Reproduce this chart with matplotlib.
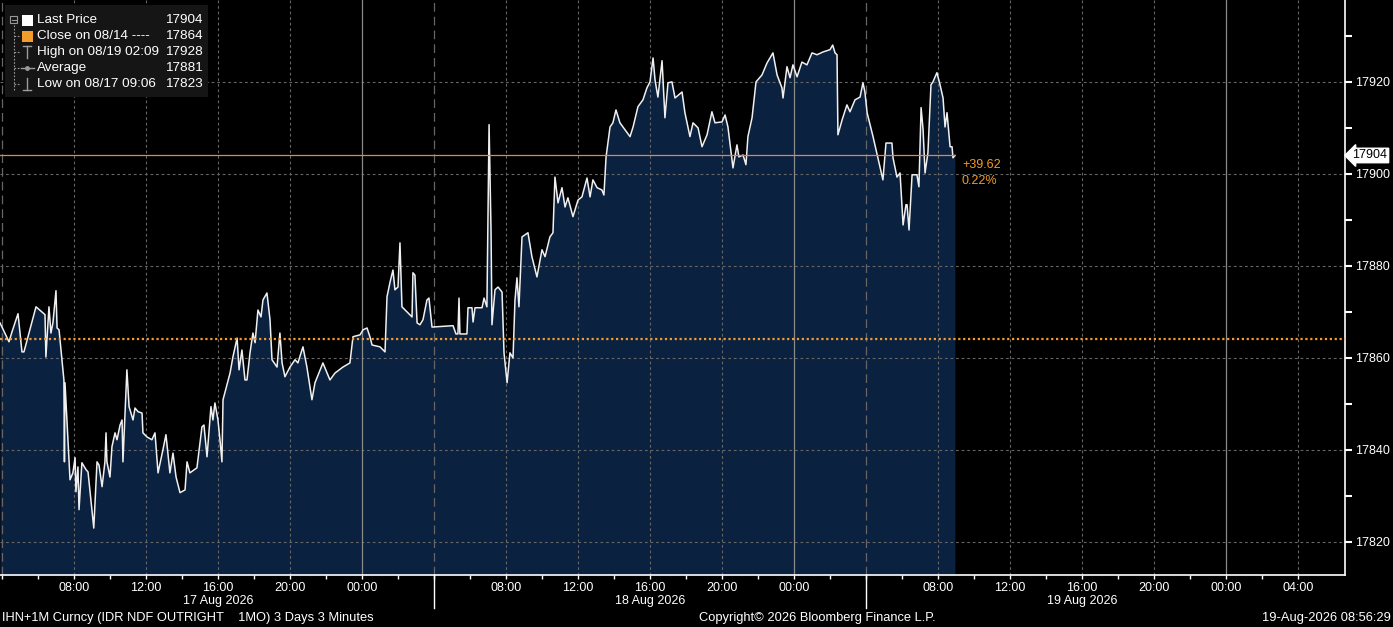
import pandas as pd
import matplotlib
matplotlib.use('Agg')
import matplotlib.pyplot as plt
import matplotlib.dates as mdates
from matplotlib.ticker import MultipleLocator, FixedLocator
from matplotlib.patches import Rectangle
from matplotlib.lines import Line2D

# hours since 17 Aug 2026 00:00 and last price readings (3-minute bars, traced)
hours = [
    3.89, 4.39, 4.56, 4.89, 5.11, 5.22, 5.89, 6.39, 6.44, 6.61, 6.72, 6.83, 7.00, 7.06, 7.17,
    7.33, 7.44, 7.47, 7.50, 7.78, 7.94, 8.06, 8.11, 8.22, 8.28, 8.44, 8.67, 8.78, 9.10, 9.28,
    9.39, 9.56, 9.72, 9.78, 9.83, 10.00, 10.11, 10.28, 10.39, 10.56, 10.67, 10.72, 10.94, 11.06,
    11.28, 11.39, 11.56, 11.78, 11.83, 12.06, 12.33, 12.50, 12.67, 12.94, 13.11, 13.33, 13.50,
    13.67, 13.89, 14.17, 14.28, 14.44, 14.83, 15.11, 15.22, 15.39, 15.61, 15.72, 15.83, 16.00,
    16.11, 16.22, 16.28, 16.67, 16.83, 17.06, 17.17, 17.33, 17.50, 17.61, 17.78, 17.94, 18.06,
    18.22, 18.39, 18.50, 18.72, 18.89, 19.00, 19.28, 19.44, 19.56, 19.72, 20.00, 20.28, 20.44,
    20.72, 20.94, 21.22, 21.39, 21.83, 22.22, 22.50, 22.94, 23.33, 23.50, 23.89, 24.06, 24.28,
    24.44, 24.56, 25.00, 25.28, 25.39, 25.56, 25.72, 25.83, 26.00, 26.11, 26.22, 26.50, 26.78,
    26.83, 26.94, 27.06, 27.22, 27.39, 27.61, 27.72, 27.89,
    29.06, 29.22, 29.33, 29.39, 29.44, 29.83, 29.89, 30.11, 30.17, 30.28, 30.67, 30.78, 30.94,
    31.06, 31.17, 31.22, 31.39, 31.56, 31.78, 31.89, 32.06, 32.22, 32.39, 32.50, 32.61, 32.72,
    32.89, 33.22, 33.44, 33.72, 34.00, 34.17, 34.44, 34.61, 34.72, 34.89, 35.11, 35.28, 35.44,
    35.72, 36.00, 36.22, 36.50, 36.67, 36.83, 37.06, 37.33, 37.44, 37.56, 37.78, 37.94, 38.11,
    38.33, 38.89, 39.06, 39.33, 39.61, 39.83, 40.00, 40.17, 40.28, 40.44, 40.67, 40.83, 41.00,
    41.22, 41.39, 41.78, 41.94, 42.22, 42.39, 42.67, 42.89, 43.17, 43.44, 43.61, 44.00, 44.17,
    44.33, 44.61, 44.83, 44.94, 45.17, 45.33, 45.44, 45.67, 45.89, 46.22, 46.50, 46.83, 47.06,
    47.33, 47.39, 47.61, 47.78, 47.94, 48.17, 48.44, 48.72, 49.00, 49.28, 49.61, 50.00, 50.15,
    50.28, 50.39, 50.44, 50.67, 50.94, 51.11, 51.39, 51.67, 51.83, 51.94,
    52.06, 52.39, 52.94, 53.11, 53.44, 53.50, 53.72, 53.89, 54.06, 54.22, 54.28, 54.39, 54.56,
    54.83, 54.94, 55.06, 55.17, 55.28, 55.44, 55.61, 55.72, 55.94, 56.11, 56.28, 56.39, 56.50,
    56.67, 56.78, 56.83, 56.94,
]
prices = [
    17867.6, 17863.5, 17865.7, 17869.6, 17861.3, 17861.3, 17871.1, 17869.4, 17860.2, 17871.1,
    17865.4, 17867.6, 17874.6, 17866.5, 17866.1, 17859.6, 17855.2, 17837.4, 17854.6, 17833.5,
    17835.0, 17838.3, 17830.9, 17836.3, 17827.0, 17837.2, 17835.7, 17835.2, 17823.0, 17837.4,
    17836.7, 17832.0, 17837.4, 17843.7, 17837.4, 17834.1, 17840.7, 17843.7, 17842.2, 17845.4,
    17846.5, 17837.4, 17857.4, 17849.4, 17846.5, 17849.1, 17848.3, 17848.0, 17843.7, 17842.8,
    17842.2, 17843.7, 17835.0, 17840.0, 17843.3, 17835.0, 17839.3, 17834.1, 17830.7, 17831.3,
    17837.4, 17835.0, 17836.1, 17845.0, 17845.4, 17838.5, 17849.4, 17846.5, 17850.2, 17846.5,
    17842.2, 17837.4, 17850.9, 17856.7, 17860.2, 17864.3, 17857.4, 17861.7, 17855.2, 17855.2,
    17861.1, 17865.4, 17863.3, 17870.4, 17868.9, 17872.6, 17874.1, 17868.3, 17859.6, 17858.0,
    17865.4, 17858.9, 17855.9, 17858.0, 17859.6, 17858.9, 17862.4, 17858.0, 17850.9, 17854.6,
    17858.9, 17855.2, 17856.7, 17858.0, 17858.9, 17864.6, 17865.0, 17866.1, 17866.5, 17864.6,
    17862.8, 17862.4, 17861.3, 17873.3, 17876.5, 17879.1, 17874.8, 17875.4, 17885.0, 17871.1,
    17870.0, 17868.9, 17878.5, 17878.0, 17867.6, 17867.2, 17868.3, 17872.6, 17873.0, 17866.7,
    17867.0, 17865.2, 17865.2, 17873.0, 17865.2, 17865.2, 17870.9, 17870.9, 17867.8, 17870.9,
    17870.9, 17873.0, 17871.1, 17910.7, 17887.2, 17867.2, 17874.8, 17875.4, 17874.3, 17861.1,
    17854.6, 17861.1, 17860.0, 17872.6, 17877.4, 17871.1, 17886.3, 17887.2, 17882.0, 17877.6,
    17883.5, 17882.0, 17886.3, 17887.2, 17899.3, 17893.7, 17897.0, 17892.8, 17894.8, 17890.7,
    17894.3, 17895.0, 17899.1, 17895.0, 17898.7, 17897.0, 17896.5, 17895.4, 17903.7, 17910.2,
    17911.1, 17913.9, 17911.1, 17908.1, 17910.2, 17914.6, 17916.1, 17918.7, 17920.0, 17925.2,
    17920.4, 17916.7, 17924.6, 17912.2, 17919.8, 17920.0, 17916.5, 17917.8, 17913.3, 17908.1,
    17911.1, 17910.0, 17905.9, 17908.5, 17913.5, 17911.1, 17911.3, 17912.8, 17910.2, 17901.3,
    17906.3, 17903.7, 17904.1, 17902.0, 17908.1, 17912.2, 17920.0, 17921.5, 17924.1, 17926.3,
    17921.5, 17918.7, 17916.5, 17923.3, 17920.9, 17923.7, 17921.1, 17924.3, 17923.7, 17926.3,
    17925.9, 17926.5, 17927.0, 17928.0, 17926.3, 17925.9, 17908.5, 17911.7, 17915.0, 17913.5,
    17916.1, 17916.7, 17919.8, 17917.8,
    17913.3, 17908.1, 17898.7, 17906.7, 17906.7, 17903.5, 17899.3, 17900.2, 17888.9, 17893.3,
    17893.3, 17887.8, 17899.8, 17899.8, 17897.2, 17914.4, 17909.6, 17900.2, 17904.6, 17919.4,
    17920.0, 17922.0, 17919.4, 17916.5, 17910.2, 17913.3, 17905.9, 17905.9, 17903.5, 17904.0,
]

close_price = 17864
last_price = 17904
change_abs = '+39.62'
change_pct = '0.22%'
legend_labels = ['Last Price', 'Close on 08/14 ----', 'High on 08/19 02:09', 'Average', 'Low on 08/17 09:06']
legend_values = ['17904', '17864', '17928', '17881', '17823']
day_labels = ['17 Aug 2026', '18 Aug 2026', '19 Aug 2026']
y_ticks = [17820, 17840, 17860, 17880, 17900, 17920]
footer_left = 'IHN+1M Curncy (IDR NDF OUTRIGHT    1MO) 3 Days 3 Minutes'
footer_mid = 'Copyright\u00a9 2026 Bloomberg Finance L.P.'
footer_right = '19-Aug-2026 08:56:29'

navy = '#0a2140'
orange = '#f39c2b'
grid_c = '#666666'

plt.rcParams['font.family'] = ['Liberation Sans', 'DejaVu Sans']

base = pd.Timestamp('2026-08-17')
t = base + pd.to_timedelta(hours, unit='h')
def at(h):
    return mdates.date2num(base + pd.Timedelta(hours=h))

W, H = 1393, 627
fig = plt.figure(figsize=(W / 100, H / 100), dpi=100, facecolor='black')
ax = fig.add_axes([0, 1 - 575 / H, 1345 / W, 575 / H])
ax.set_facecolor('black')

ymin, ymax = 17812.8, 17937.8
x0, x1 = at(3.89), at(78.61)
ax.set_xlim(x0, x1)
ax.set_ylim(ymin, ymax)

ax.fill_between(t, prices, ymin, color=navy, lw=0, zorder=1)
ax.plot(t, prices, color='#f0f0f0', lw=1.1, zorder=4)

# grid
for y in y_ticks:
    ax.axhline(y, color=grid_c, lw=0.8, ls=(0, (2.5, 2.5)), zorder=2)
boundaries = [4, 28, 52]
for h in range(4, 77, 4):
    if h % 24 == 0:
        ax.axvline(at(h), color='#8a8a8a', lw=0.9, zorder=2)
    elif h in boundaries:
        ax.axvline(at(h), color=grid_c, lw=0.9, ls=(0, (7, 4)), zorder=2)
    else:
        ax.axvline(at(h), color=grid_c, lw=0.8, ls=(0, (2.5, 2.5)), zorder=2)

ax.axhline(close_price, color=orange, lw=1.6, ls=(0, (1, 1.2)), zorder=5)
ax.plot([t[-1], x1], [last_price, last_price], color='#e8825a', lw=0.9, zorder=5)

ax.annotate(change_abs, xy=(t[-1], last_price), xytext=(5, -2.5), textcoords='offset points',
            color=orange, fontsize=9, va='top', ha='left')
ax.annotate(change_pct, xy=(t[-1], last_price), xytext=(5, -14), textcoords='offset points',
            color=orange, fontsize=9, va='top', ha='left')

# axes
for s in ['top', 'left']:
    ax.spines[s].set_visible(False)
for s in ['bottom', 'right']:
    ax.spines[s].set_color('white')
    ax.spines[s].set_linewidth(1.2)

ax.yaxis.tick_right()
ax.set_yticks(y_ticks)
ax.yaxis.set_minor_locator(MultipleLocator(10))
ax.tick_params(axis='y', which='both', colors='white', direction='out', length=5, width=1.5,
               labelsize=9, pad=2)

major_h = list(range(4, 77, 4))
ax.xaxis.set_major_locator(FixedLocator([at(h) for h in major_h]))
ax.xaxis.set_minor_locator(FixedLocator([at(h) for h in range(4, 78, 2)]))
ax.set_xticklabels(['' if h in boundaries else '%02d:00' % (h % 24) for h in major_h])
ax.tick_params(axis='x', which='both', colors='white', direction='out', length=3, width=1,
               labelsize=9, pad=2)

for h in boundaries[1:]:
    ax.plot([at(h), at(h)], [0, -0.058], transform=ax.get_xaxis_transform(), color='white',
            lw=1, clip_on=False)
for i, lab in enumerate(day_labels):
    ax.text(at(16 + 24 * i), -0.046, lab, transform=ax.get_xaxis_transform(), color='white',
            fontsize=9, ha='center', va='center')

ax.text(1.0055, last_price, str(last_price), transform=ax.get_yaxis_transform(), color='black',
        fontsize=9, ha='left', va='center',
        bbox=dict(boxstyle='larrow,pad=0.1', fc='white', ec='white'), zorder=6, clip_on=False)

# footer
fy = 1 - 618 / H
fig.text(2 / W, fy, footer_left, color='white', fontsize=9.3, va='center', ha='left')
fig.text(817 / W, fy, footer_mid, color='white', fontsize=9.3, va='center', ha='center')
fig.text(1391 / W, fy, footer_right, color='white', fontsize=9.3, va='center', ha='right')

# legend panel
def fx(x):
    return x / W
def fyp(y):
    return 1 - y / H

fig.patches.append(Rectangle((fx(5), fyp(97)), 203 / W, 92 / H, transform=fig.transFigure,
                             fc='#151515', ec='none', zorder=10))
rows = [20, 36, 52, 68, 84]
for y, lab, val in zip(rows, legend_labels, legend_values):
    fig.text(fx(37), fyp(y), lab, color='white', fontsize=9.7, va='center', ha='left', zorder=11)
    fig.text(fx(203), fyp(y), val, color='white', fontsize=9.7, va='center', ha='right', zorder=11)

gray = '#9a9a9a'
def seg(xs, ys, **kw):
    fig.lines.append(Line2D([fx(v) for v in xs], [fyp(v) for v in ys], transform=fig.transFigure,
                            zorder=11, **kw))

fig.patches.append(Rectangle((fx(22), fyp(26)), 11 / W, 11 / H, transform=fig.transFigure,
                             fc='white', ec='none', zorder=11))
fig.patches.append(Rectangle((fx(22), fyp(42)), 11 / W, 11 / H, transform=fig.transFigure,
                             fc=orange, ec='none', zorder=11))
seg([23, 31], [46, 46], color=gray, lw=1)
seg([27, 27], [46, 58], color=gray, lw=1)
seg([21, 34], [68, 68], color=gray, lw=1)
seg([27], [68], color=gray, marker='o', markersize=2.5, lw=0)
seg([27, 27], [78, 90], color=gray, lw=1)
seg([23, 31], [90, 90], color=gray, lw=1)
# tree
fig.patches.append(Rectangle((fx(10), fyp(23)), 7 / W, 7 / H, transform=fig.transFigure,
                             fc='none', ec=gray, lw=0.8, zorder=11))
seg([11.5, 15.5], [19.5, 19.5], color=gray, lw=0.8)
seg([13.5, 13.5], [25, 90], color=gray, lw=0.8, ls=(0, (1.5, 1.5)))
for y in rows[1:]:
    seg([13.5, 19], [y, y], color=gray, lw=0.8, ls=(0, (1.5, 1.5)))

fig.savefig('out.png', dpi=100, facecolor='black')
